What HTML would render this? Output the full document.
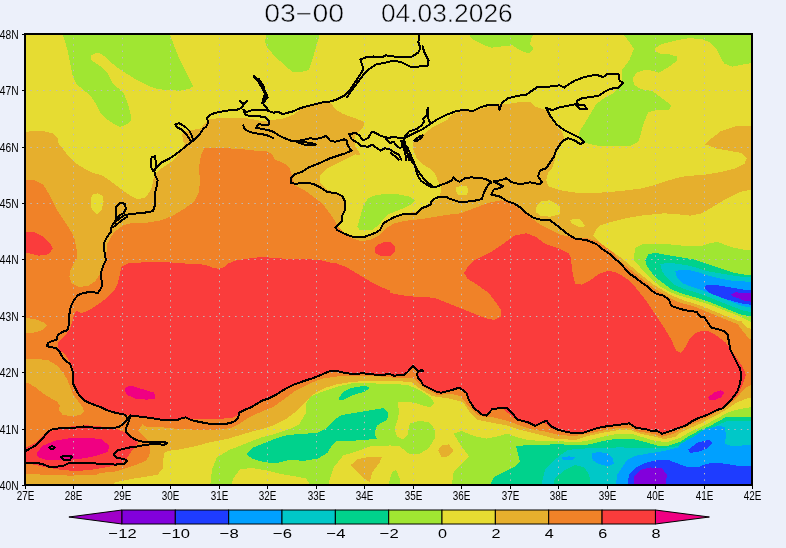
<!DOCTYPE html>
<html><head><meta charset="utf-8"><style>
html,body{margin:0;padding:0;background:#ecf0fa;width:786px;height:548px;overflow:hidden}
svg{display:block}
g polygon{shape-rendering:crispEdges}
.g{stroke:#bcbcbc;stroke-width:1;stroke-dasharray:1.4 5;fill:none}.gv{stroke-dashoffset:2.6}.gh{stroke-dashoffset:1.05}
.c{fill:none;stroke:#000;stroke-linejoin:round;stroke-linecap:round;shape-rendering:crispEdges}
.ax{font-family:"Liberation Sans",sans-serif;font-size:12px;fill:#000}
.t{font-family:"Liberation Sans",sans-serif;font-size:25px;fill:#000;stroke:#ecf0fa;stroke-width:0.5px}
.cb{font-family:"Liberation Sans",sans-serif;font-size:13.6px;fill:#000}
</style></head><body>
<svg width="786" height="548" viewBox="0 0 786 548">
<defs><clipPath id="m"><rect x="25" y="34" width="727" height="451"/></clipPath></defs>
<g clip-path="url(#m)">
<rect x="25" y="34" width="727" height="451" fill="#e6dc32"/>
<polygon fill="#e6af2d" points="20,131.7 43.5,131.2 53,133.6 57.7,138.3 58.8,145 60,145 67.1,154.4 76.5,163.8 90.6,172.1 102.4,175.6 109.4,180.3 118.9,187.4 128.3,194.4 137.7,199.1 144.7,198 149.5,192.1 151.8,187.4 154.2,175.6 161.2,168.5 174,160 176.6,156.4 181.7,148.7 184.9,143.6 183,141.1 182.3,134.7 185.5,130.9 191.9,130.2 200.9,128.3 208.5,119.4 223.9,117.5 243,117.5 260,120.7 268.6,120.7 284.5,118.3 294,114.3 300.4,109.5 308.4,106.4 316.3,104 330,102.4 336.4,110 342.7,113.8 352.9,117.6 360.5,120.2 364.4,122.7 363.1,127.8 359.3,131.6 355.4,135.4 354.2,140.5 355.4,146.9 359.3,152 360.3,155 355.6,154.4 341.5,161.5 327.4,168.5 320.3,175.6 320.3,182.7 327.4,189.7 336,193 342,197 344.5,201 345.3,206.6 344.5,211.2 342.5,216 342,222 338,226 336.5,229.5 341,233 346.8,234.5 352.9,235.5 360.5,236.8 369.7,236 378.9,231.5 383.4,225.5 388,220.8 394.1,217.7 401.8,214.7 409.4,213 415.5,211.5 421.6,208.5 427.7,205.4 433.8,200.8 438,200 441.1,191.8 441.1,187.2 438,181.1 435,173.4 430.4,168.9 422.7,164.3 416.6,158.2 413.6,150.5 412.8,142.9 416.6,138.3 424.3,133.7 431.9,127.6 441.1,123.1 447.2,120 451.2,114.7 460.6,111.2 474.7,110 488.9,106.5 500.6,104.1 508,104 520.1,102 530.1,102 534.1,106.1 540.1,108.1 546.2,110.1 550.2,118.1 556.2,126.1 562.2,132.1 564.2,138.2 560.2,144.2 556.2,154.2 554.2,162.2 552.2,168.3 548.2,172.3 546.2,180.3 548.2,186.3 560.2,190.3 575,192.5 589.1,193.3 608,192.1 622.1,190.9 640.9,188.5 655,185 669.1,180.3 680.9,176.8 692.7,175.6 706.8,174.4 720.9,172.1 735,168.5 744.5,163.8 746.8,157.9 742.1,153.2 730.3,150.9 716.2,148.5 708,145 704.5,145.1 711.5,138.3 720.9,131.2 735,126.5 760,125.3 760,187.4 739.8,192.1 725.6,199.1 713.9,206.2 702.1,213.3 690.3,215.6 678.6,214.4 664.4,213.3 652.7,214.4 640.9,215.6 626.8,218 612.7,221.5 600.9,225 596.2,229.7 593,236 600,243 610,250 620,257 628.4,263.7 636.8,271.3 645.2,278 653.6,284.7 662,289.7 670.4,294.8 678.8,298.5 687.2,301.5 695.6,304 704,307 712.4,310.5 720.8,314 729.2,317.5 737.5,320.5 741.2,321 746.7,327.3 760,332.8 760,396 745,399 736,403 727,409.2 718,414.5 709,419.2 700,423.8 690,428 680,433 676.2,436.7 664.4,439 655,436.7 640.9,433.8 629.1,429.6 617.4,430.3 603.2,432.7 589.1,435.7 575,440 554.8,438.6 535.9,433.8 521.8,430.3 507.7,425.6 488.9,422.1 477.1,419.7 470,412.7 463,402.1 448.8,398.5 432.4,396.2 420.6,389.1 411.2,382.1 390,380.5 365,380.9 350.9,382.1 336.8,384.4 325,387.9 315.6,392.7 308.6,398.5 301.5,405.6 294.4,412.7 285,419.7 275.6,424.4 266.2,428 252.1,431.5 240.3,435 228.5,438.6 216.8,440.9 205,443.3 203.8,444 191.6,447.1 179.4,449.4 168.7,450.9 164.1,453.2 163.4,459.3 162.6,468.4 158,474.5 145.8,476.8 130.5,479.1 115.3,482.2 109.2,490 20,490"/>
<polygon fill="#e6dc32" points="90.6,199.1 93,194.4 97.7,193.3 102.4,195.6 103.6,201.5 101.2,210.9 96.5,214.4 91.8,209.7 90.6,203.8"/>
<polygon fill="#e6dc32" points="456.3,187.2 459.4,186.4 467,186.4 468.5,190.2 467,194.8 457.9,194.8 456.3,191.8"/>
<polygon fill="#f08228" points="20,180.3 34.1,180.3 43.5,185 50.6,196.8 57.7,210.9 67.1,225 74.1,236.8 76.5,248.6 76.5,260.1 75.3,260 70.6,269.4 69.4,276.5 71.8,283.5 78.8,287.1 88.3,285.9 95.3,281.2 100,274.1 102.4,267.1 104.7,260 105.9,260.1 107.1,243.9 114.1,232.1 123.6,225 133,222.7 147.1,222.7 161.2,220.3 173,215.6 184.8,208.5 194.2,201.5 198.9,192.1 200.1,180.3 198.9,168.5 200.9,155 204.7,148.1 217.5,148.1 236.6,148.7 249.4,150 260,151.3 265.4,150.9 271.8,154.1 275,159.5 285,163.8 289.7,168.5 292.1,175.6 294.4,185 303.9,189.7 313.3,196.8 322.7,203.8 329.7,213.3 334.6,220.4 339.2,228 345.3,234.1 352.9,238.7 360.5,241 369.7,240.2 378.9,235.6 386.5,228 394.1,223.4 403.3,221.1 412.4,220 421.6,219 430.8,217.5 439.9,216 450,214.5 460.6,213.3 479.4,206.2 488.9,202.7 500.6,200.3 507.7,201.5 514.7,205 521.8,210.9 531.2,218 540.6,225 550.1,229.7 559.5,234.4 568.9,236.5 575,238 586,238 597,241 605,246.5 613,252.5 620,261.2 628.4,267.9 636.8,274.6 645.2,281.3 653.6,288.1 662,293.1 670.4,298.1 678.8,302.3 687.2,304.5 695.6,307 704,310.5 712.4,314 720.8,317.5 729.2,321 737.5,324 741.2,329.1 748.5,338.2 760,342 760,381 745,388 736,399 727,406 718,411.5 709,416.5 700,421 690,425 680,430 673.9,433.8 662.1,436.7 652.7,433.8 638.6,431.5 629.1,427.5 615,428.5 603.2,430.5 589.1,433.5 575,436 559.5,435 545.3,431.5 531.2,429.1 517.1,424.4 507.7,420.9 493.6,417.4 479.4,416.2 470,408 460.6,396.2 451.2,393.8 437.1,395 423,386.8 413.5,378.5 390,377.4 370,375.5 346.2,375.5 336.8,376.5 322.7,378.5 313.3,382.1 303.9,386.8 294.4,391.5 285,398.5 273.3,406.8 259.1,412.7 247.4,418.5 240.3,423.3 230.9,428 219.1,429.5 205,429.5 191.6,429.5 176.3,428.7 161.1,427.2 150.4,427.2 145.8,426.5 142.7,424.2 138.2,430.3 144.3,436.4 150.4,442.5 150.4,450.1 148.9,456.2 145.8,460.8 130.5,466.9 115.3,471.5 100,473 96.3,474.9 70.9,475.6 45.4,474.9 26.4,473.6 20,473.6"/>
<polygon fill="#e6af2d" points="20,359.1 35.3,359.1 47.5,359.8 56.6,365.2 62.7,372.1 67.3,379.7 70.4,387.3 73.4,395 78,401.1 82.6,407.2 84.1,411.8 81.1,414.8 71.9,416.3 62.7,414.8 58.9,410.2 59.7,405.6 56.6,401.1 50.5,398 42.9,393.4 35.3,387.3 29.2,383.5 20,382"/>
<polygon fill="#e6af2d" points="20,317.7 34.1,318.8 43.5,322.4 47.1,325.9 41.2,330.6 31.8,333 20,334"/>
<polygon fill="#fa3c3c" points="121.2,267.1 128.3,263.5 142.4,262.4 170.6,262.4 184.8,263.5 205,264.7 212.1,267.5 219.1,268.9 223.8,267.1 228.5,263.5 235.6,260.5 253.4,257.8 262.3,257 274.8,258 289,259 306.9,259 321.1,260.3 331.8,263 336.8,263.5 346.2,267.1 358,274.1 369.8,281.2 381.5,287.1 390,290.6 390,293 401.8,295.3 413.5,296.5 425.3,296.5 437.1,298.8 448.8,303.5 460.6,308.3 472.4,313 484.1,317.7 493.6,320 500.6,316.5 500.6,309.4 495.9,302.4 488.9,293 477.1,284.7 467.7,278.8 464.1,272.9 467.7,267.1 474.7,260 488.9,253.3 503,243.9 514.7,235.6 526.5,233.3 535.9,236.8 545.3,243.9 559.5,248.6 568.9,253.3 571,258 572,270 575,283.5 582.1,284.7 589.1,281.2 598.5,274.1 608,270.6 617.4,272.9 626.8,278.8 636.2,288.2 645.6,300 655,314.1 664.4,328.3 671.5,340 676.2,350.6 680.9,353 685.6,347.1 690.3,337.7 697.4,331.8 706.8,330.6 716.2,335.3 725.6,342.4 732.7,351.8 735.8,356.5 743.1,367.4 745.8,374.7 743.1,383.9 737.6,394.8 730.3,402.1 723.3,408 716.2,410.3 706.8,415 697.4,418.5 692.7,420.9 685.6,425.6 678.6,428 669.1,431.5 662.1,433.8 656.2,430.3 652.7,431.5 645.6,429.1 636.2,428 629.1,423.3 622.1,424.4 612.7,425.6 603.2,426.8 593.8,429.1 584.4,431.5 575,432.7 568.9,432.7 559.5,430.3 550.1,428 546.5,424.4 543,422.1 535.9,426.8 526.5,423.3 519.5,420.9 512.4,417.4 507.7,412.7 503,409.1 493.6,409.1 488.9,411.5 484.1,415 479.4,411.5 472.4,405.6 467.7,398.5 465.3,391.5 460.6,389.1 458.3,388 453.6,389.1 446.5,391.5 439.4,392.7 430,389.1 423,384.4 418.2,377.9 416.9,374.7 418.2,371.2 415,367.7 413.1,366.1 410.5,368.9 406.7,372.8 403.5,375 397.8,375 394.6,376 391.4,374.7 387.6,373.7 385,374.7 379.6,375.4 371.2,374 362.8,373.3 354.4,374 346,373.3 337.6,371.2 332,370.5 326.4,372.6 318,376.1 313.3,378 304,381 294.4,384.4 285,389.1 275.6,395 268.6,398.5 261.5,400.9 252.1,406.8 245,409.8 238.9,411.9 237.3,415.7 232,418 220.5,418.7 205.3,418.7 193,418.6 191.6,420.3 185.5,417.3 182.4,418.1 176.3,420.3 161.1,419.6 145.8,417.3 130.5,415.5 125.3,414.8 117.7,413.3 111.6,411.8 107,410.2 102.4,407.9 96.3,405.6 88.7,402.6 84.1,400.3 81.1,397.3 78,393.4 75.7,388.9 73.4,384.3 72.7,379.7 73.4,373.6 73,368.3 69.4,361.2 64.7,354.1 58.8,349.4 57.7,342.4 62.4,337.7 69.4,330.6 71.8,323.5 73,318.8 74.6,314.1 76.5,310.6 81.2,313 88.3,310.6 97.7,304.7 107.1,297.7 114.1,290.6 117.7,283.5 120,274.1"/>
<polygon fill="#fa3c3c" points="20,232.1 34.1,232.1 43.5,236.8 50.6,243.9 53,248.6 48.2,254.4 38.8,255.6 29.4,253.3 20,253"/>
<polygon fill="#fa3c3c" points="374.5,249 377,244.8 383.4,242.5 390,242 394.5,246 395,252 390,256 381.5,256 375.6,253.3"/>
<polygon fill="#fa3c3c" points="20,450.7 35.3,443.1 45.4,432.9 58.2,429.1 70.9,426.5 86.2,425.3 101.4,426.5 116.7,429.1 126.9,432.9 134.5,438 138.3,443.1 132,450.7 126.9,458.3 121.8,463.4 106.5,467.3 91.2,469.8 76,471.1 60.7,469.8 45.4,467.3 35.3,464.7 20,463.4"/>
<polygon fill="#f00082" points="124.7,387.9 130.6,385.6 142.4,389.1 154.2,392.7 155.3,398.5 147.1,399.7 135.3,398.5 127.1,395 124.7,390.3"/>
<polygon fill="#f00082" points="36.5,453.3 42.9,445.6 55.6,440.5 70.9,438 86.2,437.5 101.4,439.3 109.1,445.6 107.8,452 96.3,455.8 83.6,458.3 70.9,459.6 58.2,459.6 45.4,459.6 37.8,457.1"/>
<polygon fill="#f00082" points="708,397.4 713.9,392.7 720.9,390.3 724.5,392.7 720.9,397.4 713.9,400.4 709.2,399.7"/>
<polygon fill="#e6dc32" points="535.9,207.4 540.6,201.5 550.1,200.3 559.5,206.2 559.5,214.4 550.1,216.8 540.6,215.6 535.9,212.1"/>
<polygon fill="#e6dc32" points="570,220.3 575,218.5 579.7,219.1 585.6,226.2 579.7,227.4 572.4,223.8"/>
<polygon fill="#a0e632" points="61.9,32.4 65.9,44.1 68.3,53.5 70.6,65.3 73,77.1 76.5,84.1 83.5,90 90.6,95.9 95.3,103 100,112.4 107.1,119.4 114.1,124.1 120,127 127.1,124.1 130.6,120.6 130.6,114.7 128.3,105.3 125.9,98.3 123.6,93.5 118.9,88.8 113,84.1 109.4,77.1 107.1,72.4 102.4,67.7 95.3,63 90.6,59.4 90.6,55.9 95.3,53.1 100,53.5 105.9,57.1 111.8,63 118.9,68.8 128.3,74.7 137.7,80.6 147.1,85.3 156.5,88.8 165.9,90 180.1,90.7 189.5,88.8 193,86.5 189.5,79.4 184.8,70 180.1,60.6 175.3,48.8 171.8,39.4 168.8,32.4"/>
<polygon fill="#a0e632" points="266.7,32.4 320.3,32.4 315.6,48.8 312.1,60.6 308.6,70 299.1,72.4 292.1,71.9 285,65.3 275.6,57.1 267.4,47.7 265,41.8"/>
<polygon fill="#a0e632" points="467.7,32.4 533.6,32.4 531.2,39.4 530,44.1 533.6,48.8 528.9,53.5 521.8,51.2 512.4,45.3 500.6,46.5 491.2,47.7 481.8,44.1 472.4,39.4"/>
<polygon fill="#a0e632" points="622.4,30 760,30 760,61.6 742.5,64.6 732.3,66.6 724.2,63.6 720.1,56.5 716,48.3 709.9,42.2 701.8,39.2 689.6,38.1 677.4,40.2 661.1,44.2 655,48.3 655,50.4 659,53.4 669.2,54.4 677.4,56.5 677.4,60.5 669.2,66.6 659,72.7 652.9,70.7 644.8,69.7 636.6,72.7 632.6,78.9 634.6,85 640.7,89 652.7,91.2 662.1,98.3 671.5,105.3 669.1,110 657.4,110 648,112.4 643.3,124.1 640.9,133.6 638,142 631.5,145.5 620,146 612.4,146.2 600.3,146.2 590.3,144.2 584.3,142.2 580.3,140.2 578.3,136.2 580.3,130.1 584.3,124.1 590.3,114.1 596.3,104 604.4,98 612.4,94 617.4,88.8 622.1,81.8 622.1,70 629.1,60.6 633.8,48.8 629.1,41.8 623.3,34.2"/>
<polygon fill="#a0e632" points="357.5,226.5 360.5,215.8 363.6,205.1 368.2,198.2 375.8,195.2 388,193.7 398.7,194.4 409.4,196.7 415.5,200.5 412.4,203.6 403.3,208.2 394.1,212 388,214.3 383.4,218.9 378.9,225 372.7,229.5 365.1,230.3 359,229.5"/>
<polygon fill="#a0e632" points="633.8,260.1 634.3,254.5 635.1,247.8 641.8,244.4 653.6,243.6 670.4,244.4 687.2,246.1 700.6,246.1 709,243.6 717.4,241.9 724.1,244.4 734.2,247.8 747.6,250.3 760,251.1 760,325.5 746.7,320 737.5,315.5 727.5,311.5 717.4,307.5 707.3,304 697.2,300.8 687.2,297.8 677.1,294.8 668.7,291.4 660.3,286.4 651.9,279.7 643.5,271.3 636.8,262.9"/>
<polygon fill="#00d28c" points="645.2,259.5 648.5,254.5 655.3,252.8 663.7,254.5 673.7,256.2 683.8,257.8 693.9,259.5 704,262.9 714,266.2 724.1,269.6 734.2,272.9 744.3,274.6 760,275.5 760,318.3 740.9,314.5 730.8,310.5 720.8,306.5 710.7,302.5 700.6,299 690.5,296 680.5,293.1 672.1,289.7 665.3,284.7 658.6,279.7 651.9,272.9 646.9,266.2"/>
<polygon fill="#00c8c8" points="660.3,264.5 667,262.9 677.1,263.7 687.2,265.4 697.2,267.9 707.3,271.3 717.4,272.9 727.5,274.6 737.5,276.3 760,278 760,314 742.6,310.5 732.5,306.5 722.4,302.5 712.4,298.5 702.3,294.5 692.2,291.4 682.1,288.1 673.7,284.7 667,278 662,271.3"/>
<polygon fill="#00a0ff" points="675.4,271.3 680.5,269.6 690.5,270.4 700.6,272.9 710.7,276.3 720.8,278.8 730.8,280.5 740.9,281.3 760,282.2 760,309.9 740.9,305.5 730.8,301.5 720.8,297.5 710.7,293.5 700.6,289.7 690.5,286.4 682.1,283 677.1,278"/>
<polygon fill="#1e3cff" points="704.8,286.4 707.3,284.7 714,284.7 724.1,286.4 734.2,288.1 744.3,289.7 760,290.6 760,305.7 744.3,304 734.2,301.5 724.1,298.5 714,294.8 707.3,291.4 704.8,288.1"/>
<polygon fill="#8200dc" points="730.8,294.8 735.9,292.3 744.3,293.1 760,293.9 760,303 744.3,300.7 737.5,298.1 732.5,296.5"/>
<polygon fill="#a0e632" points="209.7,490 212.1,469.1 216.8,457.4 228.5,450.3 240.3,445.6 252.1,440.9 261.5,437.4 275.6,433.8 289.7,429.1 299.1,424.4 306.2,412.7 306.2,403.2 310.9,396.2 322.7,391.5 336.8,386.8 350.9,383.5 365,382.5 380,383.9 391.7,383.9 407.3,384.9 419,389.8 430.7,397.6 434.6,403.4 430.7,407.3 422.9,405.4 417.1,403.4 407.3,401.5 401.5,401.5 398,402 399,412.8 396.9,422.3 394.5,429.4 396.9,436.5 402.8,439.5 407.5,435.3 408.7,428.2 409.9,423.5 419,421 428.8,422 434.6,428.8 434.6,438.5 428.8,448.3 419,454.1 409.3,454.1 399.5,446.3 389.8,445.4 380,446.3 372.2,445.9 357.7,450.8 343.2,455.6 333.5,467.7 328.7,482.2 328.7,490 313.3,490 306.2,478.6 294.4,476.2 280.3,473.9 266.2,470.3 252.1,468 240.3,469.1 233.2,478.6 230,490"/>
<polygon fill="#a0e632" points="387,490 392,472 396,470 399.5,478 400,490"/>
<polygon fill="#a0e632" points="451.2,490 453.7,471.7 461.3,464.1 469,456.4 461.3,446.2 453.7,433.5 461.3,431 474.1,436.1 486.8,438.6 499.5,436.1 507.1,433.5 517.3,437.3 527.5,440 542.8,441 558,441 575,442.5 589.1,440.4 603.2,436.7 617.4,433.8 631.5,433.8 643.3,437.4 655,440.9 666.8,442.1 680,438 690,432 700,427.4 709,422.8 718,418 727,412.8 736,410 745,408 760,406 760,490"/>
<polygon fill="#e6af2d" points="350.4,465.3 357.7,459.2 369.8,456.8 381.9,456.8 379.4,462.8 372.2,472.5 369.8,482.2 362.5,477.4 355.3,470.1"/>
<polygon fill="#e6af2d" points="438.3,450.3 441.8,445.1 448.8,444.4 453.6,450.3 448.8,456.2 441.8,457.4"/>
<polygon fill="#00d28c" points="247.4,452.7 252.1,448 263.8,443.3 275.6,438.6 287.4,435 303.9,433.8 318,432.7 325,429.1 334.5,419.7 341.5,415 355.6,412.7 369.8,410.3 383.9,408 388.6,412.7 387,420 383.9,421.5 376.8,425.6 374.5,433.8 376.8,438.6 367.4,439.7 350.9,440.9 336.8,440.9 332.1,445.6 327.4,452.7 318,458.6 303.9,460.9 289.7,459.7 275.6,463.3 263.8,462.1 252.1,458.6 247.4,455"/>
<polygon fill="#00d28c" points="339.2,397.4 343.9,391.5 350.9,388 365,385.6 369.8,388 365,391.5 353.3,395 343.9,399.7 339.2,399.7"/>
<polygon fill="#00d28c" points="486.8,490 494.4,476.8 504.6,471.7 514.8,466.6 519.9,461.5 517.3,451.3 516,446.2 527.5,445 542.8,445 558,444 575,445.5 589.1,444.4 603.2,440.9 617.4,438.6 631.5,438.6 645.6,442.1 657.4,445.6 669.1,445.6 680,442 690,435.5 700,430.1 709,426.5 718,421.5 727,416.5 745,416.5 760,416.5 760,490"/>
<polygon fill="#00c8c8" points="540,490 545,470 552,462 560.6,455 568,450 575,449 598.5,447.8 622.1,447.4 645.6,448.5 669.1,447.4 692.7,443.8 700,433 709,430 718,425 727,421 745,421 760,421 760,490 591.5,490 589.1,474.4 584.4,467.4 575,465 565,470 555,478 552,490"/>
<polygon fill="#00a0ff" points="591.5,453.2 598.5,452.1 608,453.2 612.7,458 613.8,463.8 608,466.2 598.5,463.8 592.7,460.3"/>
<polygon fill="#00a0ff" points="626.8,460.3 636.2,455.6 650.3,453.2 664.4,450.9 678.6,447.4 680,444 692.8,437 704.3,429.4 718,426 724.7,426.8 726,435.8 724.7,443.4 731.1,446 760,444.7 760,490 615,490 617.4,474.4 622.1,467.4"/>
<polygon fill="#00a0ff" points="560.6,457.7 568.2,456.4 575.8,456.9 573.3,459.5 563.1,459.5"/>
<polygon fill="#1e3cff" points="688,449.7 697.4,442.7 709.2,439.6 712.7,442.7 706.8,448.5 697.4,452.1 690.3,452.8"/>
<polygon fill="#1e3cff" points="626.8,490 629.1,474.4 636.2,467.4 645.6,462.7 657.4,460.3 669.1,460.3 678.6,463.8 688,467.4 697.4,467.4 706.8,463.8 716.2,462.7 725.6,463.8 739.8,466.2 760,466.2 760,490"/>
<polygon fill="#8200dc" points="633.8,490 633.8,476.8 640.9,469.7 650.3,467.4 662.1,468.5 666.8,474.4 665.6,490"/>
<line x1="73.5" y1="34" x2="73.5" y2="485" class="g gv"/>
<line x1="122.5" y1="34" x2="122.5" y2="485" class="g gv"/>
<line x1="170.5" y1="34" x2="170.5" y2="485" class="g gv"/>
<line x1="219.5" y1="34" x2="219.5" y2="485" class="g gv"/>
<line x1="267.5" y1="34" x2="267.5" y2="485" class="g gv"/>
<line x1="316.5" y1="34" x2="316.5" y2="485" class="g gv"/>
<line x1="364.5" y1="34" x2="364.5" y2="485" class="g gv"/>
<line x1="413.5" y1="34" x2="413.5" y2="485" class="g gv"/>
<line x1="461.5" y1="34" x2="461.5" y2="485" class="g gv"/>
<line x1="510.5" y1="34" x2="510.5" y2="485" class="g gv"/>
<line x1="558.5" y1="34" x2="558.5" y2="485" class="g gv"/>
<line x1="607.5" y1="34" x2="607.5" y2="485" class="g gv"/>
<line x1="655.5" y1="34" x2="655.5" y2="485" class="g gv"/>
<line x1="704.5" y1="34" x2="704.5" y2="485" class="g gv"/>
<line x1="25" y1="90.5" x2="752" y2="90.5" class="g gh"/>
<line x1="25" y1="147.5" x2="752" y2="147.5" class="g gh"/>
<line x1="25" y1="203.5" x2="752" y2="203.5" class="g gh"/>
<line x1="25" y1="259.5" x2="752" y2="259.5" class="g gh"/>
<line x1="25" y1="316.5" x2="752" y2="316.5" class="g gh"/>
<line x1="25" y1="372.5" x2="752" y2="372.5" class="g gh"/>
<line x1="25" y1="429.5" x2="752" y2="429.5" class="g gh"/>
<polyline class="c" stroke-width="2" points="126.9,417.9 125.3,414.8 117.7,413.3 111.6,411.8 107,410.2 102.4,407.9 96.3,405.6 88.7,402.6 84.1,400.3 81.1,397.3 78,393.4 75.7,388.9 73.4,384.3 72.7,379.7 73.4,373.6 71.9,369 70.4,364.4 67.3,362.1 64.3,359.8 61.2,355.3 59.7,351.5 56.6,348.4 50.5,346.9 46.7,346.1 48.2,343.1 52.1,340.8 56.6,340 57.7,335.3 62.4,331.8 67.1,330.6 68.3,327.1 69.4,321.2 69.4,314.1 70.6,307.1 74.1,300 77.7,295.3 83.5,293 90.6,291.8 97.7,293 101.2,288.2 102.4,283.5 101.2,278.8 101.2,271.8 103.6,264.7 105.9,260 104.7,253.3 103.6,246.2 104.7,241.5 107.1,236.8 110.6,232.1 111.8,226.2 114.1,222.7 118.9,219.1 123.6,215.6 128.3,214.4 137.7,213.3 149.5,212.1 153,210.9 154.6,206.2 154.6,199.1 155.3,192.1 156.5,187.4 157.7,180.3 155.3,175.6 154.2,170.9 156.5,167.4 161.2,162.7 165.9,160.3 170.6,157.9 175.3,154.5 180.2,151 185.5,146.5 190.7,142.4 194.5,139.8 198.3,136 202.1,130.9 203.4,128.3 206,127 207.9,123.2 207.3,118.1 209.8,114.9 214.9,113 221.3,111.7 229,110.4 236.6,109.8 241.7,107.9 243,105.3 244.3,102.8"/>
<polyline class="c" stroke-width="2" points="115.3,222.7 116.5,206.2 120,202.7 124.7,203.8 125.9,208.5 123.6,213.3 118.9,215.6 116.5,220.3"/>
<polyline class="c" stroke-width="2" points="113,227.4 118.9,222.7 123.6,219.1 127.1,216.8"/>
<polyline class="c" stroke-width="2" points="175.3,124.5 179.2,123.2 185.5,127 189.4,130.9 191.9,136 193.2,139.8 190.7,141.1 186.8,134.7 181.7,129.6 176.6,127 175.3,124.5"/>
<polyline class="c" stroke-width="2" points="240,101 243,104.5 247,101"/>
<polyline class="c" stroke-width="2" points="243.2,109.5 246.3,111.9 249.5,111.1 254.3,109.5 259.1,110.3 263.8,109.5 268.6,111.1 273.4,112.7 278.2,111.9 282.9,114.3 287.7,112.7 294.1,111.1 298.8,108.7 303.6,107.2 310,105.6 316.3,104 322.7,102.4 330,101.6 336.8,99.4 339,98.2 345.1,95.1 349.2,91.1 353.3,85 357.4,78.9 361.4,72.7 363.5,68.7 361.4,62.6 360.4,59.5 365.5,57.5 373.6,56.5 381.8,57.5 385.9,55.4 394,56.5 402.1,57.5 412.3,56.5 418.4,52.4 420.5,48.3 418.4,42.2 419.4,34.1 419.4,33"/>
<polyline class="c" stroke-width="2" points="347.2,97.2 351.2,91.1 357.4,82.9 363.5,74.8 369.6,68.7 375.7,64.6 385.9,62.6 394,60.5 402.1,62.6 410.3,66.6 418.4,66.6 427.6,65.6 428.6,60.5 424.5,52.4 422.5,46.3"/>
<polyline class="c" stroke-width="2" points="254.4,77.1 259.1,79.4 263.8,86.5 265,93.6 262.7,100.6 263.8,104.8 267,108 268.6,111.1"/>
<polyline class="c" stroke-width="2" points="243.2,109.5 245.6,115.1 251.1,115.9 257.5,115.9 265.4,117.5 268.6,120.7 268.6,124.7 263.8,125.4 259.1,123.9 255.9,127.8 260.7,128.6 268.6,130.2 273.4,131.8 278.2,135 284.5,138.2 290.9,140.6 297.2,141.3 303.6,139.8 310,138.2 316.3,139 322.7,137.4 325.9,135.8 330,140.5 335.1,141.8 340.2,140.5 344,139.3 346.5,140.5 347.8,145.6 351.6,150.7 345.3,153.3 337.6,155.8 330,158.3 318,163.8 308.6,167.4 301.5,172.1 294.4,174.4 290.9,178 290.9,182.7 295.6,183.8 303.9,182.7 313.3,183.8 320.3,187.4 327.4,192.1 336.8,193.3 342.2,196 344.5,200.5 345.3,206.6 344.5,211.2 342.2,215.8 341.5,221.9 337.6,225 335.3,227.3 337.6,230.3 342.2,232.6 345.3,234.1 351.4,236.4 357.5,237.2 363.6,237.2 369.7,234.9 375.8,232.6 380.4,229.5 383.4,223.4 388,220.4 394.1,217.3 400.2,215 406.3,213.5 412.4,213.5 415.5,214.3 418.5,211.2 421.6,208.2 426.2,206.6 430.8,204.4 431.5,201.3 435.3,198.2 439.9,196.7 446,196.7 450,199 458.3,201.5 467.7,201.5 477.1,200.3 481.8,199.1 484.1,192.1 486.5,187.4 488.9,183.8 491.2,182.7 489.9,181.1 485.3,178.8 477.7,178 471.6,177.3 465.5,178 459.4,181.8 456.3,180.3 453.3,177.3 451.8,180.3 447.2,182.6 441.1,184.9 435,187.2 431.9,187.2 425.8,184.1 421.2,181.1 418.2,176.5 416.6,171.9 415.1,165.8 410.5,159.7 407.5,153.6 404.4,146 403.8,138 398.7,138 393.6,136.7 388.5,138 383.4,136.7 379.6,135.4 375.8,132.9 372,131.6 368.2,138 363.1,140.5 359.3,135.4 355.4,132.9 349.1,134.2 351.6,139.3 358,143.1 360.5,145.6 368.2,146.9 372,144.4 377.1,148.2 380.9,150.7 384.7,148.2 389.8,149.4 393.6,152 398.7,154.5 401.2,159.6"/>
<polyline class="c" stroke-width="2" points="403.8,138 406.3,148.2 408.9,160"/>
<polyline class="c" stroke-width="2" points="407.5,147.5 412.1,158.2 416.6,168.9 419.7,173.4 425.8,181.1 431.9,185.6"/>
<polyline class="c" stroke-width="2" points="403.8,138 408.9,131.6 416.5,129.1 421.6,125.3 424.1,121.5 422.9,118.9 426.7,115.1 426.7,110"/>
<polyline class="c" stroke-width="2" points="414,140.5 419.1,136.7 422.9,135.4 421.6,138 416.5,141.2 414,140.5"/>
<polyline class="c" stroke-width="2" points="428,108 428,117.6 430,122.7"/>
<polyline class="c" stroke-width="2" points="243.2,125.4 244.8,129.4 249.5,131.8 255.9,133.4 262.3,134.2 268.6,135.8 273.4,138.2"/>
<polyline class="c" stroke-width="2" points="297.2,142.1 303.6,144.5 310,145.3 316.3,144.5 310,142.9 303.6,142.1 297.2,142.1"/>
<polyline class="c" stroke-width="2" points="401.8,145.1 404.1,138.3 413.5,133.6 423,128.9 430,124.1 437.1,119.4 446.5,114.7 455.9,111.2 465.3,109.6 472.4,111.2 479.4,107.7 488.9,104.8 498.3,104.8 499.4,110 501.8,103 507.7,98.3 517.1,95.9 526.5,94.7 531.2,91.2 538.3,86.5 550.1,86.5 559.5,85.3 564.2,87.7 568.9,84.1 575,80.6 584.4,77.1 596.2,74.7 603.2,77.1 608,73.5 618.5,74.3 619.7,80.6 623.3,83 618.5,87.7 610.3,88.8 605.6,91.2 598.5,95.9 589.1,97.1 582.1,98.3 577.4,100.6 576.2,105.3 579.7,108.8 586.8,108.8 584.4,105.3 579.7,104.8"/>
<polyline class="c" stroke-width="2" points="546.2,108.1 552.2,110.1 560.2,107.1 566.2,106.1 576.3,104 579.7,104.8"/>
<polyline class="c" stroke-width="2" points="546.2,108.1 548.2,112.1 550.2,116.1 556.2,124.1 564.2,130.1 572.2,134.2 580.3,138.2 584.3,142.2 580.3,144.2 574.3,140.2 568.2,138.2 564.2,140.2 560.2,144.2 556.2,150.2 554.2,156.2 550.2,162.2 546.2,168.3 540.1,170.3 538.1,176.3 542.1,182.3 540.1,184.3 530.1,182.3 520.1,184.3 512,182.3 506,178.3 500.6,180.3 493.6,181.5 503,186.2 498.3,188.5 493.6,189.7 491.2,194.4 500.6,196.8 507.7,201.5 514.7,203.8 521.8,208.5 526.5,213.3 533.6,218 543,220.3 550.1,220.3 554.8,223.8 559.5,227.4 566.5,233.3 575,238.5 586.8,240.3 596.2,243.9 603.2,249.7 610.3,254.4 615,259 620,262.8 625.5,269.2 631,274.7 636.4,278.3 641.9,282.9 647.4,286.5 651,290.2 656.5,293.8 663.8,295.7 669.3,300.2 671.1,305.7 678.4,308.4 685.7,310.3 693,311.2 696.7,312.1 700.3,316.7 704,316.7 707.6,322.1 711.3,327.6 718.6,329.4 724,331.3 727.7,334.9 728.6,340 730.3,349.4 735,358.9 739.8,368.3 741.5,375 739.8,384.4 737.4,391.5 730.3,400.9 723.3,408 716.2,410.3 706.8,415 697.4,418.5 692.7,420.9 685.6,425.6 678.6,428 669.1,431.5 662.1,433.8 656.2,430.3 652.7,431.5 645.6,429.1 636.2,428 629.1,423.3 622.1,424.4 612.7,425.6 603.2,426.8 593.8,429.1 585,432.3 578.4,433.5 568.2,432.3 558,429.7 550.4,425.9 546.6,420.8 542.8,422.1 535.1,425.9 527.5,422.1 517.3,419.5 512.2,413.2 507.1,408.1 499.5,408.1 491.9,409.4 486.8,415.7 481.7,414.4 474.1,408.1 469,400.4 466.4,392.8 461.3,389 458.8,387.7 451.2,390.3 441,392.8 435.9,391.5 423.2,385.2 420.8,380.4 418.2,377.9 416.9,374.7 418.2,371.2 422,369.6 423.3,370.9 420.1,370.9 416.9,370.2 415,367.7 413.1,366.1 410.5,368.9 406.7,372.8 403.5,375 397.8,375 394.6,376 391.4,374.7 387.6,373.7 385,374.7 379.6,375.4 371.2,374 362.8,373.3 354.4,374 346,373.3 337.6,371.2 332,370.5 326.4,372.6 318,376.1 313.3,378 304,381 294.4,384.4 285,389.1 275.6,395 268.6,398.5 261.5,400.9 252.1,406.8 245,409.8 239.1,412.7 238,418.5 233.2,422.1 223.8,424.4 214.4,424.2 206.9,423.4 191.6,420.3 185.5,417.3 182.4,418.1 176.3,420.3 161.1,419.6 145.8,417.3 130.5,415.5 128,418 126,421.1 122.9,424.2 118.3,427.2 112.2,428 104.6,428 96.3,427.8 83.6,426.5 73.4,427.8 63.3,427.8 53.1,429.1 48,431.6 42.9,438 35.3,445.6 26.4,450.7 20,452"/>
<polyline class="c" stroke-width="2" points="130.5,416 129,421 126,428 126,431.8 130.5,436.4 135.1,439.4 139.7,441 145.8,442.5 150.4,441.7 158,442.5 164.1,441.7 167.2,443.2 164.1,444.8 155,444 145.8,444.8 138.2,446.3 127.5,447.8 118.3,450.1 113.7,454.7 116.8,457.7 124.4,459.3 127.5,460.8 124.4,463.9 115.3,464.6 107.6,463.9 100,463.9 89,462.7 74.8,462.7 67.7,463.6 62.3,466.2 49.9,467.1 41,463.6 26.7,462.7 20,462.5"/>
<polyline class="c" stroke-width="2" points="49,447.5 52,446 55,447.5 52,449.5 49,447.5"/>
<polyline class="c" stroke-width="2" points="61,457 66,455.5 72,456.5 70,460 64,460 61,457"/>
<polyline class="c" stroke-width="2" points="151.8,156.8 155.3,156.3 156,168.5 153,170.9 150.6,166.2 151.3,159.1 151.8,156.8"/>
<polyline class="c" stroke-width="2" points="386,139.3 389.8,143.1 393.6,141.8 396.2,145.6 400,148.2 403.8,145.6 406.3,150.7 410.2,160"/>
<polyline class="c" stroke-width="2" points="391.1,153.3 396.2,157.1 398.7,160"/>
<polyline class="c" stroke-width="2" points="401.2,140.5 402.5,145.6 405.1,152 406.3,160"/>
<polyline class="c" stroke-width="3" points="254.1,76.6 258.5,81 261.8,86.4 264,90.8 266.1,94.1 267.2,97.4 265,99.6 262.9,102.9"/>
</g>
<rect x="25" y="34" width="727" height="451" fill="none" stroke="#000" stroke-width="2"/>
<line x1="25.5" y1="485" x2="25.5" y2="489" stroke="#000" stroke-width="1"/>
<text x="25.5" y="499.5" class="ax" text-anchor="middle" textLength="17.6" lengthAdjust="spacingAndGlyphs">27E</text>
<line x1="73.5" y1="485" x2="73.5" y2="489" stroke="#000" stroke-width="1"/>
<text x="73.5" y="499.5" class="ax" text-anchor="middle" textLength="17.6" lengthAdjust="spacingAndGlyphs">28E</text>
<line x1="122.5" y1="485" x2="122.5" y2="489" stroke="#000" stroke-width="1"/>
<text x="122.5" y="499.5" class="ax" text-anchor="middle" textLength="17.6" lengthAdjust="spacingAndGlyphs">29E</text>
<line x1="170.5" y1="485" x2="170.5" y2="489" stroke="#000" stroke-width="1"/>
<text x="170.5" y="499.5" class="ax" text-anchor="middle" textLength="17.6" lengthAdjust="spacingAndGlyphs">30E</text>
<line x1="219.5" y1="485" x2="219.5" y2="489" stroke="#000" stroke-width="1"/>
<text x="219.5" y="499.5" class="ax" text-anchor="middle" textLength="17.6" lengthAdjust="spacingAndGlyphs">31E</text>
<line x1="267.5" y1="485" x2="267.5" y2="489" stroke="#000" stroke-width="1"/>
<text x="267.5" y="499.5" class="ax" text-anchor="middle" textLength="17.6" lengthAdjust="spacingAndGlyphs">32E</text>
<line x1="316.5" y1="485" x2="316.5" y2="489" stroke="#000" stroke-width="1"/>
<text x="316.5" y="499.5" class="ax" text-anchor="middle" textLength="17.6" lengthAdjust="spacingAndGlyphs">33E</text>
<line x1="364.5" y1="485" x2="364.5" y2="489" stroke="#000" stroke-width="1"/>
<text x="364.5" y="499.5" class="ax" text-anchor="middle" textLength="17.6" lengthAdjust="spacingAndGlyphs">34E</text>
<line x1="413.5" y1="485" x2="413.5" y2="489" stroke="#000" stroke-width="1"/>
<text x="413.5" y="499.5" class="ax" text-anchor="middle" textLength="17.6" lengthAdjust="spacingAndGlyphs">35E</text>
<line x1="461.5" y1="485" x2="461.5" y2="489" stroke="#000" stroke-width="1"/>
<text x="461.5" y="499.5" class="ax" text-anchor="middle" textLength="17.6" lengthAdjust="spacingAndGlyphs">36E</text>
<line x1="510.5" y1="485" x2="510.5" y2="489" stroke="#000" stroke-width="1"/>
<text x="510.5" y="499.5" class="ax" text-anchor="middle" textLength="17.6" lengthAdjust="spacingAndGlyphs">37E</text>
<line x1="558.5" y1="485" x2="558.5" y2="489" stroke="#000" stroke-width="1"/>
<text x="558.5" y="499.5" class="ax" text-anchor="middle" textLength="17.6" lengthAdjust="spacingAndGlyphs">38E</text>
<line x1="607.5" y1="485" x2="607.5" y2="489" stroke="#000" stroke-width="1"/>
<text x="607.5" y="499.5" class="ax" text-anchor="middle" textLength="17.6" lengthAdjust="spacingAndGlyphs">39E</text>
<line x1="655.5" y1="485" x2="655.5" y2="489" stroke="#000" stroke-width="1"/>
<text x="655.5" y="499.5" class="ax" text-anchor="middle" textLength="17.6" lengthAdjust="spacingAndGlyphs">40E</text>
<line x1="704.5" y1="485" x2="704.5" y2="489" stroke="#000" stroke-width="1"/>
<text x="704.5" y="499.5" class="ax" text-anchor="middle" textLength="17.6" lengthAdjust="spacingAndGlyphs">41E</text>
<line x1="752.5" y1="485" x2="752.5" y2="489" stroke="#000" stroke-width="1"/>
<text x="752.5" y="499.5" class="ax" text-anchor="middle" textLength="17.6" lengthAdjust="spacingAndGlyphs">42E</text>
<line x1="22" y1="34.5" x2="25" y2="34.5" stroke="#000" stroke-width="1"/>
<text x="18.6" y="38.8" class="ax" text-anchor="end" textLength="18.8" lengthAdjust="spacingAndGlyphs">48N</text>
<line x1="22" y1="90.5" x2="25" y2="90.5" stroke="#000" stroke-width="1"/>
<text x="18.6" y="94.8" class="ax" text-anchor="end" textLength="18.8" lengthAdjust="spacingAndGlyphs">47N</text>
<line x1="22" y1="147.5" x2="25" y2="147.5" stroke="#000" stroke-width="1"/>
<text x="18.6" y="151.8" class="ax" text-anchor="end" textLength="18.8" lengthAdjust="spacingAndGlyphs">46N</text>
<line x1="22" y1="203.5" x2="25" y2="203.5" stroke="#000" stroke-width="1"/>
<text x="18.6" y="207.8" class="ax" text-anchor="end" textLength="18.8" lengthAdjust="spacingAndGlyphs">45N</text>
<line x1="22" y1="259.5" x2="25" y2="259.5" stroke="#000" stroke-width="1"/>
<text x="18.6" y="263.8" class="ax" text-anchor="end" textLength="18.8" lengthAdjust="spacingAndGlyphs">44N</text>
<line x1="22" y1="316.5" x2="25" y2="316.5" stroke="#000" stroke-width="1"/>
<text x="18.6" y="320.8" class="ax" text-anchor="end" textLength="18.8" lengthAdjust="spacingAndGlyphs">43N</text>
<line x1="22" y1="372.5" x2="25" y2="372.5" stroke="#000" stroke-width="1"/>
<text x="18.6" y="376.8" class="ax" text-anchor="end" textLength="18.8" lengthAdjust="spacingAndGlyphs">42N</text>
<line x1="22" y1="429.5" x2="25" y2="429.5" stroke="#000" stroke-width="1"/>
<text x="18.6" y="433.8" class="ax" text-anchor="end" textLength="18.8" lengthAdjust="spacingAndGlyphs">41N</text>
<line x1="22" y1="485.5" x2="25" y2="485.5" stroke="#000" stroke-width="1"/>
<text x="18.6" y="489.8" class="ax" text-anchor="end" textLength="18.8" lengthAdjust="spacingAndGlyphs">40N</text>
<text x="264.2" y="21.7" class="t" textLength="79.8" lengthAdjust="spacingAndGlyphs">03&#8722;00</text>
<text x="380.9" y="21.7" class="t" textLength="131.8" lengthAdjust="spacingAndGlyphs">04.03.2026</text>
<polygon points="68.9,517.0 122,510 122,524" fill="#a000c8" stroke="#000" stroke-width="1"/>
<polygon points="709.4,517.0 655.4,510 655.4,524" fill="#f00082" stroke="#000" stroke-width="1"/>
<rect x="122" y="510" width="53.3" height="14" fill="#8200dc" stroke="#000" stroke-width="1"/>
<rect x="175.3" y="510" width="53.3" height="14" fill="#1e3cff" stroke="#000" stroke-width="1"/>
<rect x="228.7" y="510" width="53.3" height="14" fill="#00a0ff" stroke="#000" stroke-width="1"/>
<rect x="282" y="510" width="53.3" height="14" fill="#00c8c8" stroke="#000" stroke-width="1"/>
<rect x="335.4" y="510" width="53.3" height="14" fill="#00d28c" stroke="#000" stroke-width="1"/>
<rect x="388.7" y="510" width="53.3" height="14" fill="#a0e632" stroke="#000" stroke-width="1"/>
<rect x="442" y="510" width="53.3" height="14" fill="#e6dc32" stroke="#000" stroke-width="1"/>
<rect x="495.4" y="510" width="53.3" height="14" fill="#e6af2d" stroke="#000" stroke-width="1"/>
<rect x="548.7" y="510" width="53.3" height="14" fill="#f08228" stroke="#000" stroke-width="1"/>
<rect x="602.1" y="510" width="53.3" height="14" fill="#fa3c3c" stroke="#000" stroke-width="1"/>
<text x="122.6" y="537.8" class="cb" text-anchor="middle" textLength="28" lengthAdjust="spacingAndGlyphs">&#8722;12</text>
<text x="175.9" y="537.8" class="cb" text-anchor="middle" textLength="28" lengthAdjust="spacingAndGlyphs">&#8722;10</text>
<text x="229.3" y="537.8" class="cb" text-anchor="middle" textLength="19" lengthAdjust="spacingAndGlyphs">&#8722;8</text>
<text x="282.6" y="537.8" class="cb" text-anchor="middle" textLength="19" lengthAdjust="spacingAndGlyphs">&#8722;6</text>
<text x="336" y="537.8" class="cb" text-anchor="middle" textLength="19" lengthAdjust="spacingAndGlyphs">&#8722;4</text>
<text x="389.3" y="537.8" class="cb" text-anchor="middle" textLength="19" lengthAdjust="spacingAndGlyphs">&#8722;2</text>
<text x="442.6" y="537.8" class="cb" text-anchor="middle" textLength="9" lengthAdjust="spacingAndGlyphs">0</text>
<text x="496" y="537.8" class="cb" text-anchor="middle" textLength="9" lengthAdjust="spacingAndGlyphs">2</text>
<text x="549.3" y="537.8" class="cb" text-anchor="middle" textLength="9" lengthAdjust="spacingAndGlyphs">4</text>
<text x="602.7" y="537.8" class="cb" text-anchor="middle" textLength="9" lengthAdjust="spacingAndGlyphs">6</text>
<text x="656" y="537.8" class="cb" text-anchor="middle" textLength="9" lengthAdjust="spacingAndGlyphs">8</text>
</svg>
</body></html>
